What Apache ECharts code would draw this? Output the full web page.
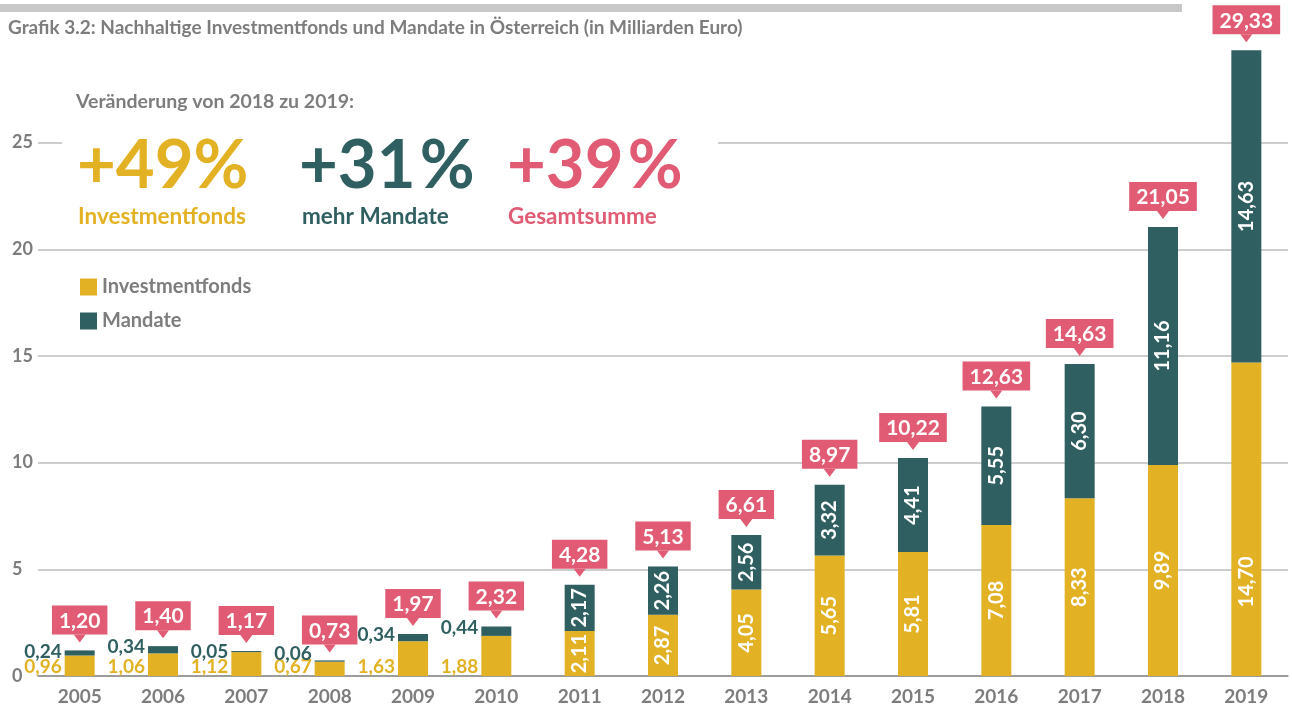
<!DOCTYPE html>
<html>
<head>
<meta charset="utf-8">
<title>Grafik 3.2</title>
<script src="https://cdn.jsdelivr.net/npm/echarts@6/dist/echarts.min.js"></script>
<style>
	html, body { margin: 0; padding: 0; background: #fff; }
	#chart { width: 1292px; height: 706px; }
</style>
</head>
<body>
<div id="chart"></div>
<script>
	// Daten (Milliarden Euro)
	var years = ['2005', '2006', '2007', '2008', '2009', '2010', '2011', '2012', '2013', '2014', '2015', '2016', '2017', '2018', '2019'];
	var fondsValues = [0.96, 1.06, 1.12, 0.67, 1.63, 1.88, 2.11, 2.87, 4.05, 5.65, 5.81, 7.08, 8.33, 9.89, 14.70];
	var mandateValues = [0.24, 0.34, 0.05, 0.06, 0.34, 0.44, 2.17, 2.26, 2.56, 3.32, 4.41, 5.55, 6.30, 11.16, 14.63];
	var totalValues = [1.20, 1.40, 1.17, 0.73, 1.97, 2.32, 4.28, 5.13, 6.61, 8.97, 10.22, 12.63, 14.63, 21.05, 29.33];

	var YELLOW = '#e3b224';
	var TEAL = '#2f5f60';
	var PINK = '#e05b73';
	var GRAY = '#7d7d7d';
	var FONT = 'Lato';

	function fmt(v) {
		return v.toFixed(2).replace('.', ',');
	}

	// kleine Balken: Beschriftung links neben dem Balken
	var fondsData = fondsValues.map(function (v, i) {
		var item = { value: v };
		if (v < 2) {
			item.label = {
				rotate: 0,
				position: [-3, '100%'],
				align: 'right',
				verticalAlign: 'bottom',
				color: YELLOW,
				fontSize: 19
			};
		} else if (i === years.length - 1) {
			item.label = { position: ['50%', '70%'], align: 'center', verticalAlign: 'middle' };
		}
		return item;
	});
	var mandateData = mandateValues.map(function (v, i) {
		var item = { value: v };
		if (v < 1) {
			item.label = {
				rotate: 0,
				// 2008: etwas hoeher, sonst ueberlappt es mit dem Fonds-Wert
				position: [-3, totalValues[i] < 1 ? -7 : 1],
				align: 'right',
				verticalAlign: 'middle',
				color: TEAL,
				fontSize: 19
			};
		}
		return item;
	});

	var insideLabel = {
		show: true,
		position: 'inside',
		rotate: 90,
		color: '#fff',
		fontFamily: FONT,
		fontWeight: 'bold',
		fontSize: 20,
		formatter: function (p) { return fmt(p.value); }
	};

	var chart = echarts.init(document.getElementById('chart'));
	chart.setOption({
		animation: false,
		textStyle: { fontFamily: FONT },
		grid: { left: 38, right: 4, top: 36, bottom: 27 },
		legend: {
			data: ['Investmentfonds', 'Mandate'],
			orient: 'vertical',
			left: 75,
			top: 272,
			icon: 'rect',
			itemWidth: 17,
			itemHeight: 17,
			itemGap: 14,
			textStyle: { color: GRAY, fontSize: 20, fontWeight: 'bold', fontFamily: FONT }
		},
		xAxis: {
			type: 'category',
			data: years,
			axisTick: { show: false },
			axisLine: { lineStyle: { color: '#8c8c8c', width: 1.5 } },
			axisLabel: { color: GRAY, fontSize: 19, fontWeight: 'bold', margin: 11 }
		},
		yAxis: {
			type: 'value',
			min: 0,
			max: 30,
			interval: 5,
			axisLine: { show: false },
			axisTick: { show: false },
			splitLine: { showMaxLine: false, lineStyle: { color: '#bdbdbd', width: 1.5 } },
			axisLabel: { showMaxLabel: false, color: GRAY, fontSize: 18, fontWeight: 'bold', align: 'left', margin: 26 }
		},
		series: [
			{
				name: 'Investmentfonds',
				type: 'bar',
				stack: 'summe',
				barWidth: 30,
				itemStyle: { color: YELLOW },
				label: insideLabel,
				data: fondsData
			},
			{
				name: 'Mandate',
				type: 'bar',
				stack: 'summe',
				barWidth: 30,
				itemStyle: { color: TEAL },
				label: insideLabel,
				data: mandateData
			},
			{
				// Gesamtsumme als Sprechblase ueber dem Balken
				name: 'Gesamt',
				type: 'scatter',
				symbol: 'path://M0,0L12,0L6,8Z',
				symbolSize: [12, 8],
				symbolOffset: [0, -12],
				itemStyle: { color: PINK, opacity: 1 },
				z: 5,
				label: {
					show: true,
					position: 'top',
					distance: 0,
					backgroundColor: PINK,
					padding: [5, 7, 3, 7],
					color: '#fff',
					fontFamily: FONT,
					fontWeight: 'bold',
					fontSize: 21,
					formatter: function (p) { return fmt(p.value); }
				},
				data: totalValues
			}
		],
		graphic: [
			{ type: 'rect', shape: { x: 0, y: 4, width: 1182, height: 8 }, style: { fill: '#c8c8c8' } },
			{
				type: 'text', left: 8, top: 18,
				style: { text: 'Grafik 3.2: Nachhaltige Investmentfonds und Mandate in Österreich (in Milliarden Euro)', fill: GRAY, font: 'bold 19px Lato' }
			},
			// Gitterlinie hinter dem Kasten ausblenden
			{ type: 'rect', z: 100, shape: { x: 62, y: 137, width: 656, height: 12 }, style: { fill: '#fff' } },
			{
				type: 'text', z: 101, left: 76, top: 92,
				style: { text: 'Veränderung von 2018 zu 2019:', fill: GRAY, font: 'bold 19.5px Lato' }
			},
			{ type: 'text', z: 101, left: 77, top: 133, style: { text: '+49%', fill: YELLOW, font: 'bold 67px Lato' } },
			{ type: 'text', z: 101, left: 299, top: 133, style: { text: '+31\u200A%', fill: TEAL, font: 'bold 67px Lato' } },
			{ type: 'text', z: 101, left: 507, top: 133, style: { text: '+39\u200A%', fill: PINK, font: 'bold 67px Lato' } },
			{ type: 'text', z: 101, left: 78, top: 205, style: { text: 'Investmentfonds', fill: YELLOW, font: 'bold 22.5px Lato' } },
			{ type: 'text', z: 101, left: 302, top: 205, style: { text: 'mehr Mandate', fill: TEAL, font: 'bold 22.5px Lato' } },
			{ type: 'text', z: 101, left: 508, top: 205, style: { text: 'Gesamtsumme', fill: PINK, font: 'bold 22.5px Lato' } }
		]
	});
</script>
</body>
</html>
